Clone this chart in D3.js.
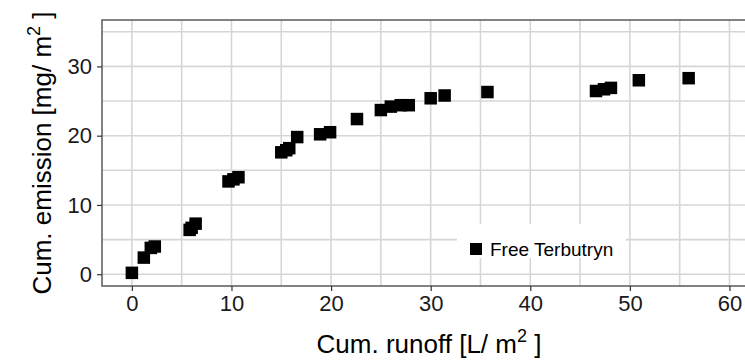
<!DOCTYPE html>
<html>
<head>
<meta charset="utf-8">
<script src="https://cdn.jsdelivr.net/npm/d3@7"></script>
<style>
  body { margin: 0; background: #fff; }
  svg { display: block; font-family: "Liberation Sans", Arial, sans-serif; }
</style>
</head>
<body>
<div id="chart"></div>
<script>
// Data
const runoff = [0.0, 1.2, 1.9, 2.3, 5.8, 6.0, 6.4, 9.7, 10.2, 10.7, 15.0, 15.5, 15.8, 16.6, 18.9, 19.9,
  22.6, 25.0, 26.0, 27.0, 27.8, 30.0, 31.4, 35.7, 46.6, 47.4, 48.1, 50.9, 55.9];
const emission = [0.2, 2.4, 3.8, 4.0, 6.4, 6.7, 7.3, 13.4, 13.7, 14.0, 17.6, 17.9, 18.2, 19.8, 20.2, 20.5,
  22.4, 23.7, 24.2, 24.4, 24.4, 25.4, 25.8, 26.3, 26.45, 26.7, 26.9, 28.0, 28.3];
const xTicks = [0, 10, 20, 30, 40, 50, 60];
const yTicks = [0, 10, 20, 30];
const xMinor = [-5, 5, 15, 25, 35, 45, 55, 65];
const yMinor = [5, 15, 25, 35];
const seriesName = "Free Terbutryn";

const points = runoff.map((r, i) => ({ x: r, y: emission[i] }));

function draw() {
  const width = 745, height = 361;
  const panel = { left: 102, top: 20, right: 749, bottom: 286 };

  const svg = d3.select("#chart").append("svg")
    .attr("width", width)
    .attr("height", height);

  const x = d3.scaleLinear().domain([-3, 62]).range([panel.left, panel.left + 65 * 9.96]);
  const y = d3.scaleLinear().domain([-1.7, 36.7]).range([panel.bottom, panel.top]);

  svg.append("clipPath").attr("id", "panel-clip")
    .append("rect")
    .attr("x", panel.left).attr("y", panel.top)
    .attr("width", panel.right - panel.left)
    .attr("height", panel.bottom - panel.top);

  const grid = svg.append("g").attr("clip-path", "url(#panel-clip)");

  // minor + major grid
  grid.selectAll("line.vx")
    .data(xMinor.concat(xTicks))
    .join("line")
    .attr("x1", d => x(d)).attr("x2", d => x(d))
    .attr("y1", panel.top).attr("y2", panel.bottom)
    .attr("stroke", "#d6d6d6")
    .attr("stroke-width", 1.6);

  grid.selectAll("line.hy")
    .data(yMinor.concat(yTicks))
    .join("line")
    .attr("x1", panel.left).attr("x2", panel.right)
    .attr("y1", d => y(d)).attr("y2", d => y(d))
    .attr("stroke", "#d6d6d6")
    .attr("stroke-width", 1.6);

  // legend box (inside panel)
  const lg = svg.append("g").attr("transform", "translate(457,224)");
  lg.append("rect")
    .attr("width", 169).attr("height", 34)
    .attr("fill", "#fff");
  lg.append("rect")
    .attr("x", 13).attr("y", 19)
    .attr("width", 12).attr("height", 12)
    .attr("fill", "#000");
  lg.append("text")
    .attr("x", 33).attr("y", 32)
    .style("font-size", "19px")
    .style("fill", "#000")
    .text(seriesName);

  // points
  const size = 12.5;
  svg.append("g").attr("clip-path", "url(#panel-clip)")
    .selectAll("rect")
    .data(points)
    .join("rect")
    .attr("x", d => x(d.x) - size / 2)
    .attr("y", d => y(d.y) - size / 2)
    .attr("width", size).attr("height", size)
    .attr("fill", "#000");

  // panel border
  svg.append("path")
    .attr("d", `M${panel.right},${panel.top}H${panel.left}V${panel.bottom}H${panel.right}`)
    .attr("fill", "none")
    .attr("stroke", "#5a5a5a")
    .attr("stroke-width", 1.5);

  // axes
  const xAxis = svg.append("g")
    .attr("transform", `translate(0,${panel.bottom})`)
    .call(d3.axisBottom(x).tickValues(xTicks).tickSize(5).tickPadding(4));
  const yAxis = svg.append("g")
    .attr("transform", `translate(${panel.left},0)`)
    .call(d3.axisLeft(y).tickValues(yTicks).tickSize(5).tickPadding(5));

  [xAxis, yAxis].forEach(a => {
    a.select(".domain").remove();
    a.selectAll(".tick line").attr("stroke", "#333").attr("stroke-width", 1.2);
    a.selectAll(".tick text")
      .style("font-size", "22px")
      .style("font-family", "'Liberation Sans', Arial, sans-serif")
      .style("fill", "#1a1a1a");
  });

  // axis titles
  const xt = svg.append("text")
    .attr("x", 429).attr("y", 353)
    .attr("text-anchor", "middle")
    .style("font-size", "26px")
    .style("fill", "#000");
  xt.append("tspan").text("Cum. runoff [L/ m");
  xt.append("tspan").attr("dy", -11).style("font-size", "18px").text("2");
  xt.append("tspan").attr("dy", 11).text(" ]");

  const yt = svg.append("text")
    .attr("transform", "translate(51,153) rotate(-90)")
    .attr("text-anchor", "middle")
    .style("font-size", "26px")
    .style("fill", "#000");
  yt.append("tspan").text("Cum. emission [mg/ m");
  yt.append("tspan").attr("dy", -11).style("font-size", "18px").text("2");
  yt.append("tspan").attr("dy", 11).text(" ]");
}

draw();
</script>
</body>
</html>
